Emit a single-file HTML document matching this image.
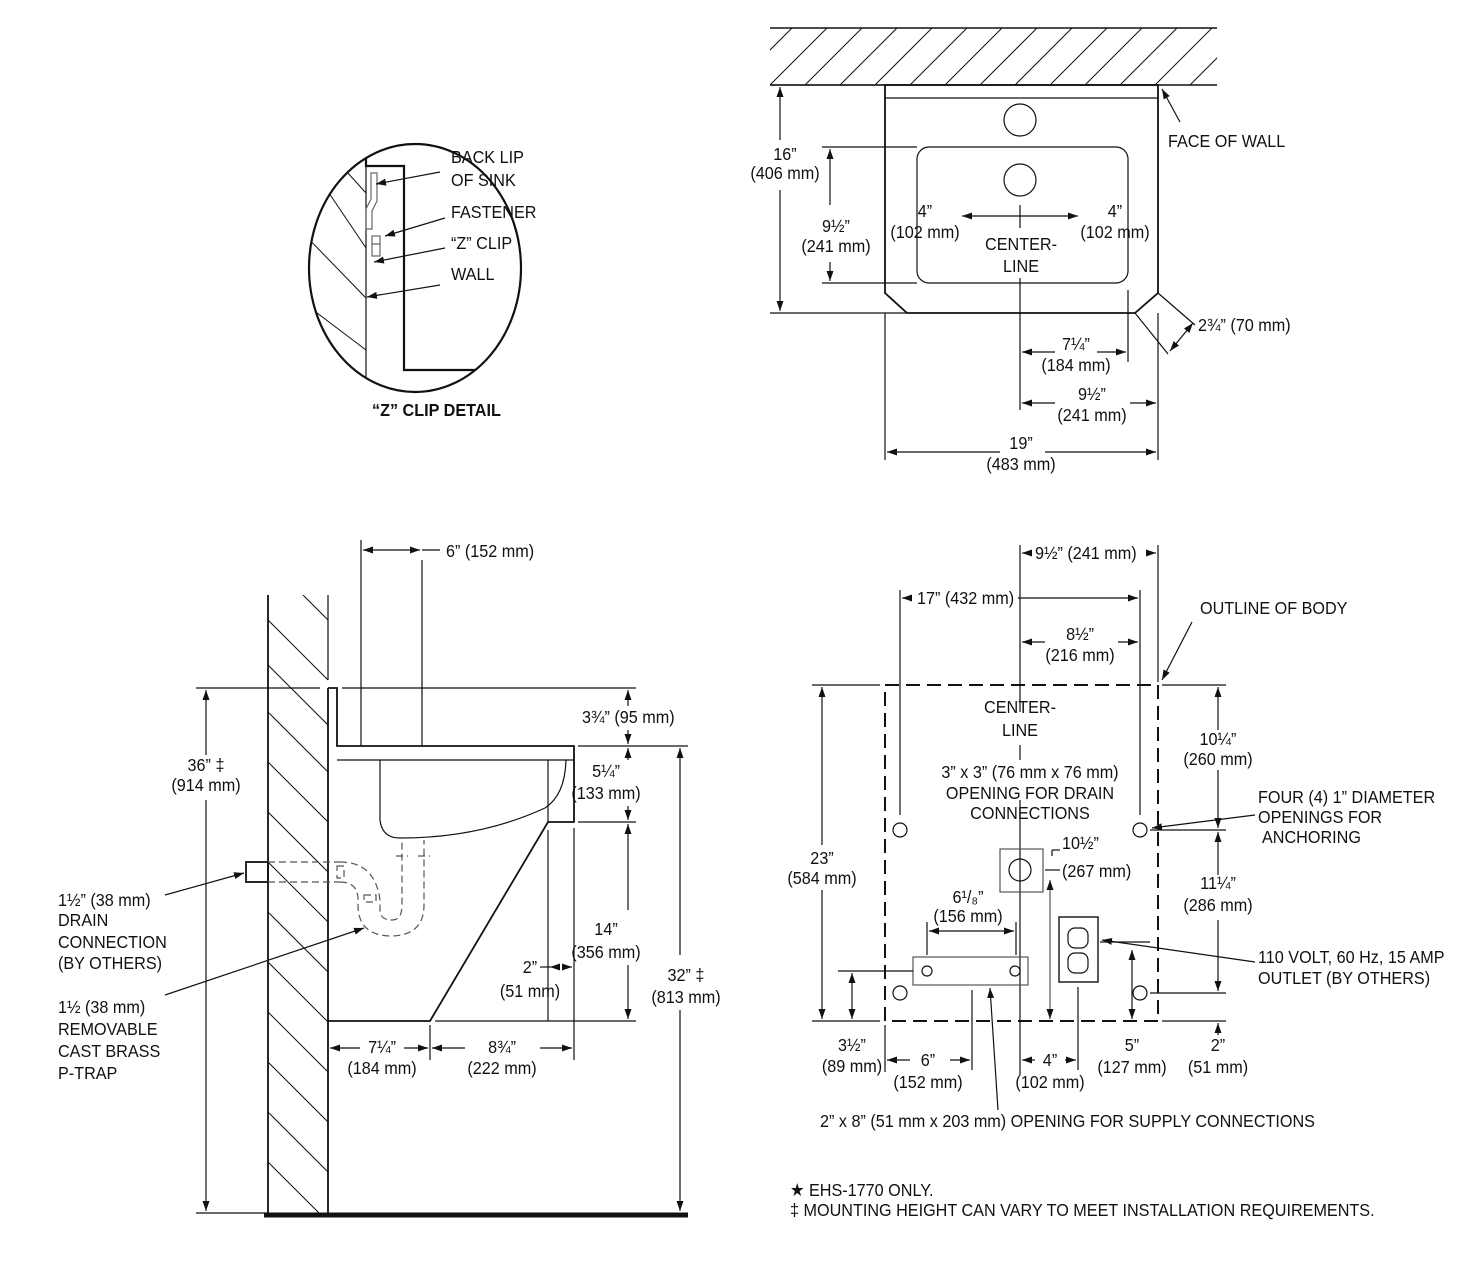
<!DOCTYPE html>
<html><head><meta charset="utf-8"><style>
html,body{margin:0;padding:0;background:#fff}
svg{display:block}
text{font-family:"Liberation Sans",sans-serif;font-size:18px;fill:#111;transform-box:fill-box;transform-origin:left center;transform:scaleX(0.9)}
g[text-anchor="middle"] text{transform-origin:center}
.b{font-weight:bold}
</style></head><body>
<svg width="1480" height="1266" viewBox="0 0 1480 1266" xmlns="http://www.w3.org/2000/svg">
<defs>
<marker id="a" viewBox="0 0 10 10" refX="10" refY="5" markerWidth="10" markerHeight="10" markerUnits="userSpaceOnUse" orient="auto-start-reverse"><path d="M0,1.5L10,5L0,8.5z" fill="#111"/></marker>
<clipPath id="cc"><ellipse cx="415" cy="268" rx="106" ry="124"/></clipPath>
<clipPath id="wh"><rect x="770" y="28" width="447" height="57"/></clipPath>
<clipPath id="sw"><rect x="268" y="595" width="60" height="618"/></clipPath>
</defs>
<g stroke="#111" fill="none" stroke-width="1.2">

<!-- Z clip detail -->
<ellipse cx="415" cy="268" rx="106" ry="124" stroke-width="2.2"/>
<g clip-path="url(#cc)">
<g stroke-width="1">
<line x1="300" y1="120" x2="366" y2="193"/><line x1="300" y1="150" x2="366" y2="248"/><line x1="300" y1="230" x2="366" y2="298"/><line x1="300" y1="300" x2="366" y2="350"/>
</g>
<line x1="366" y1="130" x2="366" y2="400"/>
<polyline points="366,130 366,166 404,166 404,370 540,370" stroke-width="2.2"/>
<path d="M371,173 h6 v28 l-5,10 v18 h-6 v-20 l5,-10z" stroke="#666"/>
<rect x="372" y="236" width="8" height="20" stroke="#666"/>
<line x1="372" y1="244" x2="380" y2="244" stroke="#666"/>
</g>
<line x1="440" y1="172" x2="376" y2="184" marker-end="url(#a)"/>
<line x1="445" y1="218" x2="385" y2="236" marker-end="url(#a)"/>
<line x1="445" y1="248" x2="374" y2="262" marker-end="url(#a)"/>
<line x1="440" y1="285" x2="367" y2="297" marker-end="url(#a)"/>
</g>
<text x="451" y="163">BACK LIP</text><text x="451" y="186">OF SINK</text>
<text x="451" y="218">FASTENER</text><text x="451" y="249">“Z” CLIP</text><text x="451" y="280">WALL</text>
<text x="372" y="416" class="b">“Z” CLIP DETAIL</text>

<g stroke="#111" fill="none" stroke-width="1.2">
<!-- Top plan -->
<g clip-path="url(#wh)" stroke-width="1">
<line x1="770" y1="85" x2="827" y2="28"/><line x1="805" y1="85" x2="862" y2="28"/><line x1="840" y1="85" x2="897" y2="28"/><line x1="875" y1="85" x2="932" y2="28"/><line x1="910" y1="85" x2="967" y2="28"/><line x1="945" y1="85" x2="1002" y2="28"/><line x1="980" y1="85" x2="1037" y2="28"/><line x1="1015" y1="85" x2="1072" y2="28"/><line x1="1050" y1="85" x2="1107" y2="28"/><line x1="1085" y1="85" x2="1142" y2="28"/><line x1="1120" y1="85" x2="1177" y2="28"/><line x1="1155" y1="85" x2="1212" y2="28"/><line x1="1190" y1="85" x2="1247" y2="28"/><line x1="735" y1="85" x2="792" y2="28"/>
</g>
<line x1="770" y1="28" x2="1217" y2="28" stroke-width="1.5"/>
<line x1="770" y1="85" x2="1217" y2="85" stroke-width="1.5"/>
<polygon points="885,85 1158,85 1158,293 1135,313 907,313 885,293" stroke-width="1.8"/>
<line x1="885" y1="98" x2="1158" y2="98"/>
<circle cx="1020" cy="120" r="16"/><circle cx="1020" cy="180" r="16"/>
<rect x="917" y="147" width="211" height="136" rx="12"/>
<line x1="1020" y1="278" x2="1020" y2="410"/>
<line x1="770" y1="85" x2="885" y2="85"/><line x1="770" y1="313" x2="907" y2="313"/>
<line x1="780" y1="140" x2="780" y2="87" marker-end="url(#a)"/><line x1="780" y1="190" x2="780" y2="311" marker-end="url(#a)"/>
<line x1="822" y1="147" x2="917" y2="147"/><line x1="822" y1="283" x2="917" y2="283"/>
<line x1="830" y1="205" x2="830" y2="149" marker-end="url(#a)"/><line x1="830" y1="262" x2="830" y2="281" marker-end="url(#a)"/>
<line x1="1020" y1="216" x2="962" y2="216" marker-end="url(#a)"/><line x1="1020" y1="216" x2="1078" y2="216" marker-end="url(#a)"/>
<line x1="1020" y1="205" x2="1020" y2="228"/>
<line x1="1180" y1="122" x2="1162" y2="89" marker-end="url(#a)"/>
<line x1="1135" y1="313" x2="1168" y2="354"/><line x1="1158" y1="293" x2="1195" y2="325"/>
<line x1="1170" y1="351" x2="1193" y2="323" marker-start="url(#a)" marker-end="url(#a)"/>
<line x1="1128" y1="290" x2="1128" y2="362"/>
<line x1="1055" y1="352" x2="1022" y2="352" marker-end="url(#a)"/><line x1="1097" y1="352" x2="1126" y2="352" marker-end="url(#a)"/>
<line x1="1158" y1="313" x2="1158" y2="460"/><line x1="885" y1="313" x2="885" y2="460"/>
<line x1="1055" y1="403" x2="1022" y2="403" marker-end="url(#a)"/><line x1="1130" y1="403" x2="1156" y2="403" marker-end="url(#a)"/>
<line x1="1000" y1="452" x2="887" y2="452" marker-end="url(#a)"/><line x1="1045" y1="452" x2="1156" y2="452" marker-end="url(#a)"/>
</g>
<g text-anchor="middle">
<text x="785" y="160">16”</text><text x="785" y="179">(406 mm)</text>
<text x="836" y="232">9½”</text><text x="836" y="252">(241 mm)</text>
<text x="925" y="217">4”</text><text x="925" y="238">(102 mm)</text>
<text x="1115" y="217">4”</text><text x="1115" y="238">(102 mm)</text>
<text x="1021" y="250">CENTER-</text><text x="1021" y="272">LINE</text>
<text x="1076" y="350">7¼”</text><text x="1076" y="371">(184 mm)</text>
<text x="1092" y="400">9½”</text><text x="1092" y="421">(241 mm)</text>
<text x="1021" y="449">19”</text><text x="1021" y="470">(483 mm)</text>
</g>
<text x="1168" y="147">FACE OF WALL</text>
<text x="1198" y="331">2¾” (70 mm)</text>

<!-- Side view -->
<g stroke="#111" fill="none" stroke-width="1.2">
<g clip-path="url(#sw)" stroke-width="1">
<line x1="268" y1="560" x2="328" y2="620"/><line x1="268" y1="620" x2="328" y2="680"/><line x1="268" y1="665" x2="328" y2="725"/><line x1="268" y1="712" x2="328" y2="772"/><line x1="268" y1="762" x2="328" y2="822"/><line x1="268" y1="812" x2="328" y2="872"/><line x1="268" y1="862" x2="328" y2="922"/><line x1="268" y1="912" x2="328" y2="972"/><line x1="268" y1="962" x2="328" y2="1022"/><line x1="268" y1="1012" x2="328" y2="1072"/><line x1="268" y1="1062" x2="328" y2="1122"/><line x1="268" y1="1112" x2="328" y2="1172"/><line x1="268" y1="1162" x2="328" y2="1222"/>
</g>
<line x1="268" y1="595" x2="268" y2="1213" stroke-width="1.8"/>
<line x1="328" y1="595" x2="328" y2="680" stroke-width="1.2"/>
<line x1="328" y1="688" x2="328" y2="1213" stroke-width="1.8"/>
<line x1="264" y1="1215" x2="688" y2="1215" stroke-width="5"/>
<polyline points="328,688 337,688 337,746 574,746 574,822 548,822 430,1021 328,1021" stroke-width="1.8"/>
<line x1="337" y1="760" x2="574" y2="760"/>
<line x1="548" y1="760" x2="548" y2="822"/>
<path d="M380,760 V820 Q382,838 400,838 Q480,838 545,808 Q565,795 566,760"/>
<line x1="361" y1="540" x2="361" y2="746"/><line x1="422" y1="560" x2="422" y2="746"/>
<line x1="363" y1="550" x2="420" y2="550" marker-start="url(#a)" marker-end="url(#a)"/>
<line x1="422" y1="550" x2="440" y2="550"/>
<rect x="246" y="862" width="22" height="20" stroke-width="1.8"/>
<g stroke-dasharray="7,4" stroke="#555">
<line x1="268" y1="862" x2="340" y2="862"/><line x1="268" y1="882" x2="340" y2="882"/>
<path d="M340,862 Q375,862 380,900 V910 Q380,920 392,920 Q402,920 402,905 V840"/>
<path d="M340,882 Q357,882 358,898 V905 Q358,935 390,936 Q424,936 424,905 V840"/>
<rect x="337" y="866" width="7" height="12"/><rect x="364" y="895" width="12" height="7"/>
<line x1="396" y1="856" x2="408" y2="856"/><line x1="418" y1="856" x2="430" y2="856"/>
</g>
<line x1="165" y1="895" x2="244" y2="873" marker-end="url(#a)"/>
<line x1="165" y1="995" x2="364" y2="928" marker-end="url(#a)"/>
<line x1="196" y1="688" x2="320" y2="688"/>
<line x1="196" y1="1213" x2="268" y2="1213"/>
<line x1="206" y1="755" x2="206" y2="690" marker-end="url(#a)"/><line x1="206" y1="800" x2="206" y2="1211" marker-end="url(#a)"/>
<line x1="342" y1="688" x2="636" y2="688"/><line x1="578" y1="746" x2="688" y2="746"/>
<line x1="578" y1="822" x2="636" y2="822"/><line x1="435" y1="1021" x2="636" y2="1021"/>
<line x1="628" y1="706" x2="628" y2="690" marker-end="url(#a)"/><line x1="628" y1="730" x2="628" y2="744" marker-end="url(#a)"/>
<line x1="628" y1="760" x2="628" y2="748" marker-end="url(#a)"/><line x1="628" y1="806" x2="628" y2="820" marker-end="url(#a)"/>
<line x1="628" y1="910" x2="628" y2="824" marker-end="url(#a)"/><line x1="628" y1="965" x2="628" y2="1019" marker-end="url(#a)"/>
<line x1="680" y1="955" x2="680" y2="748" marker-end="url(#a)"/><line x1="680" y1="1010" x2="680" y2="1211" marker-end="url(#a)"/>
<line x1="548" y1="830" x2="548" y2="1021"/><line x1="574" y1="828" x2="574" y2="1060"/>
<line x1="540" y1="967" x2="550" y2="967"/>
<line x1="558" y1="967" x2="550" y2="967" marker-end="url(#a)"/><line x1="564" y1="967" x2="572" y2="967" marker-end="url(#a)"/>
<line x1="430" y1="1025" x2="430" y2="1060"/>
<line x1="360" y1="1048" x2="330" y2="1048" marker-end="url(#a)"/><line x1="404" y1="1048" x2="428" y2="1048" marker-end="url(#a)"/>
<line x1="465" y1="1048" x2="432" y2="1048" marker-end="url(#a)"/><line x1="540" y1="1048" x2="572" y2="1048" marker-end="url(#a)"/>
</g>
<text x="446" y="557">6” (152 mm)</text>
<text x="582" y="723">3¾” (95 mm)</text>
<g text-anchor="middle">
<text x="606" y="777">5¼”</text><text x="606" y="799">(133 mm)</text>
<text x="606" y="935">14”</text><text x="606" y="958">(356 mm)</text>
<text x="686" y="981">32” ‡</text><text x="686" y="1003">(813 mm)</text>
<text x="206" y="771">36” ‡</text><text x="206" y="791">(914 mm)</text>
<text x="530" y="973">2”</text><text x="530" y="997">(51 mm)</text>
<text x="382" y="1053">7¼”</text><text x="382" y="1074">(184 mm)</text>
<text x="502" y="1053">8¾”</text><text x="502" y="1074">(222 mm)</text>
</g>
<text x="58" y="906">1½” (38 mm)</text><text x="58" y="926">DRAIN</text><text x="58" y="948">CONNECTION</text><text x="58" y="969">(BY OTHERS)</text>
<text x="58" y="1013">1½ (38 mm)</text><text x="58" y="1035">REMOVABLE</text><text x="58" y="1057">CAST BRASS</text><text x="58" y="1079">P-TRAP</text>

<!-- Bottom plan -->
<g stroke="#111" fill="none" stroke-width="1.2">
<rect x="885" y="685" width="273" height="336" stroke-width="2" stroke-dasharray="14,7"/>
<line x1="1020" y1="545" x2="1020" y2="712"/><line x1="1020" y1="745" x2="1020" y2="760"/><line x1="1020" y1="800" x2="1020" y2="1075"/>
<line x1="1158" y1="545" x2="1158" y2="682"/>
<line x1="1030" y1="553" x2="1022" y2="553" marker-end="url(#a)"/><line x1="1146" y1="553" x2="1156" y2="553" marker-end="url(#a)"/>
<line x1="900" y1="590" x2="900" y2="815"/><line x1="1140" y1="590" x2="1140" y2="815"/>
<line x1="910" y1="598" x2="902" y2="598" marker-end="url(#a)"/><line x1="1018" y1="598" x2="1138" y2="598" marker-end="url(#a)"/>
<line x1="1045" y1="642" x2="1022" y2="642" marker-end="url(#a)"/><line x1="1118" y1="642" x2="1138" y2="642" marker-end="url(#a)"/>
<circle cx="900" cy="830" r="7"/><circle cx="1140" cy="830" r="7"/><circle cx="900" cy="993" r="7"/><circle cx="1140" cy="993" r="7"/>
<rect x="1000" y="849" width="43" height="43" stroke="#555"/><circle cx="1020" cy="870" r="11"/>
<line x1="1045" y1="870" x2="1060" y2="870"/>
<rect x="913" y="957" width="115" height="28" stroke="#555"/><circle cx="927" cy="971" r="5"/><circle cx="1015" cy="971" r="5"/>
<rect x="1059" y="917" width="39" height="65" stroke-width="1.4"/>
<rect x="1068" y="928" width="20" height="20" rx="7"/><rect x="1068" y="953" width="20" height="20" rx="7"/>
<line x1="1052" y1="850" x2="1060" y2="850"/><line x1="1052" y1="850" x2="1052" y2="856"/>
<line x1="1050" y1="880" x2="1050" y2="1019" stroke="#555" marker-start="url(#a)" marker-end="url(#a)"/>
<line x1="927" y1="922" x2="927" y2="955"/><line x1="1016" y1="922" x2="1016" y2="955"/>
<line x1="929" y1="931" x2="1014" y2="931" marker-start="url(#a)" marker-end="url(#a)"/>
<line x1="838" y1="971" x2="913" y2="971"/>
<line x1="852" y1="973" x2="852" y2="1019" marker-start="url(#a)" marker-end="url(#a)"/>
<line x1="812" y1="685" x2="880" y2="685"/><line x1="812" y1="1021" x2="880" y2="1021"/>
<line x1="822" y1="845" x2="822" y2="687" marker-end="url(#a)"/><line x1="822" y1="890" x2="822" y2="1019" marker-end="url(#a)"/>
<line x1="885" y1="1025" x2="885" y2="1072"/><line x1="972" y1="990" x2="972" y2="1070"/>
<line x1="910" y1="1060" x2="887" y2="1060" marker-end="url(#a)"/><line x1="950" y1="1060" x2="970" y2="1060" marker-end="url(#a)"/>
<line x1="1078" y1="987" x2="1078" y2="1070"/>
<line x1="1035" y1="1060" x2="1022" y2="1060" marker-end="url(#a)"/><line x1="1065" y1="1060" x2="1076" y2="1060" marker-end="url(#a)"/>
<line x1="1100" y1="942" x2="1150" y2="942"/>
<line x1="1132" y1="950" x2="1132" y2="1019" marker-start="url(#a)" marker-end="url(#a)"/>
<line x1="1162" y1="685" x2="1226" y2="685"/><line x1="1150" y1="830" x2="1226" y2="830"/>
<line x1="1150" y1="993" x2="1226" y2="993"/><line x1="1162" y1="1021" x2="1226" y2="1021"/>
<line x1="1218" y1="730" x2="1218" y2="687" marker-end="url(#a)"/><line x1="1218" y1="770" x2="1218" y2="828" marker-end="url(#a)"/>
<line x1="1218" y1="875" x2="1218" y2="832" marker-end="url(#a)"/><line x1="1218" y1="920" x2="1218" y2="991" marker-end="url(#a)"/>
<line x1="1218" y1="1035" x2="1218" y2="1023" marker-end="url(#a)"/>
<line x1="1192" y1="622" x2="1162" y2="680" marker-end="url(#a)"/>
<line x1="1255" y1="815" x2="1152" y2="828" marker-end="url(#a)"/>
<line x1="1255" y1="962" x2="1102" y2="940" marker-end="url(#a)"/>
<line x1="998" y1="1110" x2="990" y2="988" marker-end="url(#a)"/>
</g>
<text x="1035" y="559">9½” (241 mm)</text>
<text x="917" y="604">17” (432 mm)</text>
<g text-anchor="middle">
<text x="1080" y="640">8½”</text><text x="1080" y="661">(216 mm)</text>
<text x="1020" y="713">CENTER-</text><text x="1020" y="736">LINE</text>
<text x="1030" y="778">3” x 3” (76 mm x 76 mm)</text><text x="1030" y="799">OPENING FOR DRAIN</text><text x="1030" y="819">CONNECTIONS</text>
<text x="822" y="864">23”</text><text x="822" y="884">(584 mm)</text>
<text x="1218" y="745">10¼”</text><text x="1218" y="765">(260 mm)</text>
<text x="1218" y="889">11¼”</text><text x="1218" y="911">(286 mm)</text>
<text x="968" y="903">6¹/₈”</text><text x="968" y="922">(156 mm)</text>
<text x="852" y="1051">3½”</text><text x="852" y="1072">(89 mm)</text>
<text x="928" y="1066">6”</text><text x="928" y="1088">(152 mm)</text>
<text x="1050" y="1066">4”</text><text x="1050" y="1088">(102 mm)</text>
<text x="1132" y="1051">5”</text><text x="1132" y="1073">(127 mm)</text>
<text x="1218" y="1051">2”</text><text x="1218" y="1073">(51 mm)</text>
</g>
<text x="1062" y="849">10½”</text><text x="1062" y="877">(267 mm)</text>
<text x="1200" y="614">OUTLINE OF BODY</text>
<text x="1258" y="803">FOUR (4) 1” DIAMETER</text><text x="1258" y="823">OPENINGS FOR</text><text x="1262" y="843">ANCHORING</text>
<text x="1258" y="963">110 VOLT, 60 Hz, 15 AMP</text><text x="1258" y="984">OUTLET (BY OTHERS)</text>
<text x="820" y="1127">2” x 8” (51 mm x 203 mm) OPENING FOR SUPPLY CONNECTIONS</text>
<text x="790" y="1196">★ EHS-1770 ONLY.</text>
<text x="790" y="1216">‡ MOUNTING HEIGHT CAN VARY TO MEET INSTALLATION REQUIREMENTS.</text>
</svg>
</body></html>
